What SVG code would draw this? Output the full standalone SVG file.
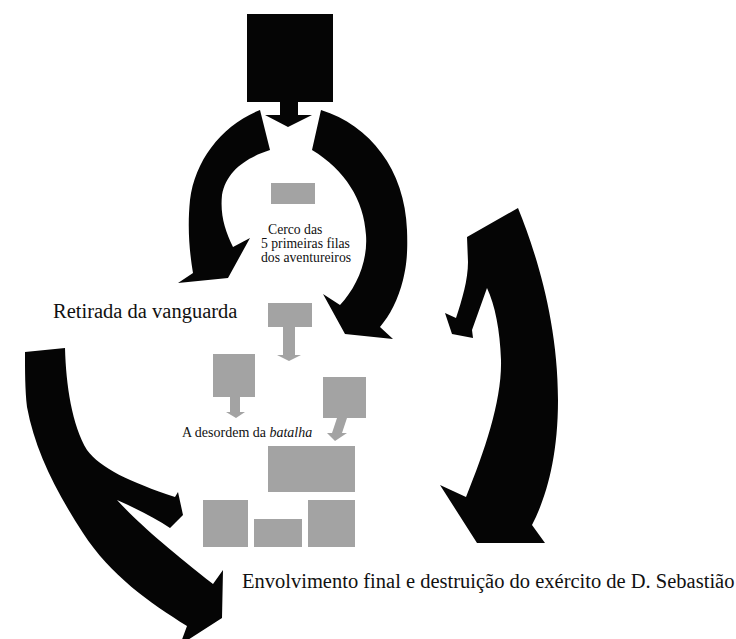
<svg xmlns="http://www.w3.org/2000/svg" width="736" height="639" viewBox="0 0 736 639">
<style>
.blk{fill:#050505;stroke:none}
.gry{fill:#a3a3a3;stroke:none}
text{fill:#111}
</style>
<rect x="0" y="0" width="736" height="639" fill="#ffffff"/>
<g id="connectors">
  <path class="blk" d="M280,101 L298,101 L298,115 L312,115 L288,127 L265,115 L280,115 Z"/>
  <path class="blk" d="M260,110 C222,125 195,160 190,200 C187,230 190,255 193,273 L178,283 L228,278 L250,238 L233,247 C225,230 220,215 222,195 C226,172 245,158 270,150 Z"/>
  <path class="blk" d="M321,110 C370,125 405,170 407,230 C408,255 406,268 403,280 C398,300 390,315 380,327 L393,339 L345,334 L323,294 L340,305 C356,288 368,262 366,235 C364,200 345,170 312,150 Z"/>
  <path class="blk" d="M518,208 C535,250 558,320 558,400 C558,460 545,500 532,525 L545,543 L477,543 L440,485 L466,497 C485,450 502,400 501,360 C500,330 495,305 487,288 L472,330 L473,338 L452,334 L445,313 L456,318 C462,300 468,280 468,262 L467,237 Z"/>
  <path class="blk" d="M25,352 L65,348 C66,385 72,425 87,450 C100,468 130,482 175,497 L178,492 L183,515 L170,528 C155,518 135,508 117,500 C140,525 170,550 213,584 L223,570 L222,618 L180,645 L187,626 C150,603 110,575 83,533 C55,490 35,450 27,407 C25,390 25,370 25,352 Z"/>
  <path class="gry" d="M283,327 L295,327 L295,355 L301,355 L289,361 L277,355 L283,355 Z"/>
  <path class="gry" d="M230,397 L240,397 L240,412 L245,412 L236,418 L226,412 L230,412 Z"/>
  <path class="gry" d="M337,418 L347,418 L342,433 L347,433 L335,441 L327,433 L332,433 Z"/>
</g>
<g id="node-top-square"><rect class="blk" x="247" y="14" width="86" height="88"/></g>
<g id="node-cerco">
  <rect class="gry" x="271" y="183" width="44" height="21"/>
  <text font-family="'Liberation Serif', 'Times New Roman', 'DejaVu Serif', serif" font-size="13.7"><tspan x="268" y="234">Cerco das</tspan><tspan x="261" y="248">5 primeiras filas</tspan><tspan x="261" y="262">dos aventureiros</tspan></text>
</g>
<g id="node-retirada"><text font-family="'Liberation Serif', 'Times New Roman', 'DejaVu Serif', serif" x="53" y="318" font-size="20.5">Retirada da vanguarda</text></g>
<g id="node-box-a"><rect class="gry" x="268" y="303" width="44" height="24"/></g>
<g id="node-box-b"><rect class="gry" x="213" y="354" width="42" height="43"/></g>
<g id="node-box-c"><rect class="gry" x="323" y="377" width="43" height="41"/></g>
<g id="node-desordem"><text font-family="'Liberation Serif', 'Times New Roman', 'DejaVu Serif', serif" x="182" y="437" font-size="14">A desordem da <tspan font-style="italic">batalha</tspan></text></g>
<g id="node-box-d"><rect class="gry" x="268" y="446" width="87" height="46"/></g>
<g id="node-box-e"><rect class="gry" x="203" y="500" width="45" height="47"/></g>
<g id="node-box-f"><rect class="gry" x="254" y="519" width="48" height="28"/></g>
<g id="node-box-g"><rect class="gry" x="308" y="500" width="47" height="47"/></g>
<g id="node-envolvimento"><text font-family="'Liberation Serif', 'Times New Roman', 'DejaVu Serif', serif" x="242" y="588" font-size="20.5">Envolvimento final e destruição do exército de D. Sebastião</text></g>
</svg>
